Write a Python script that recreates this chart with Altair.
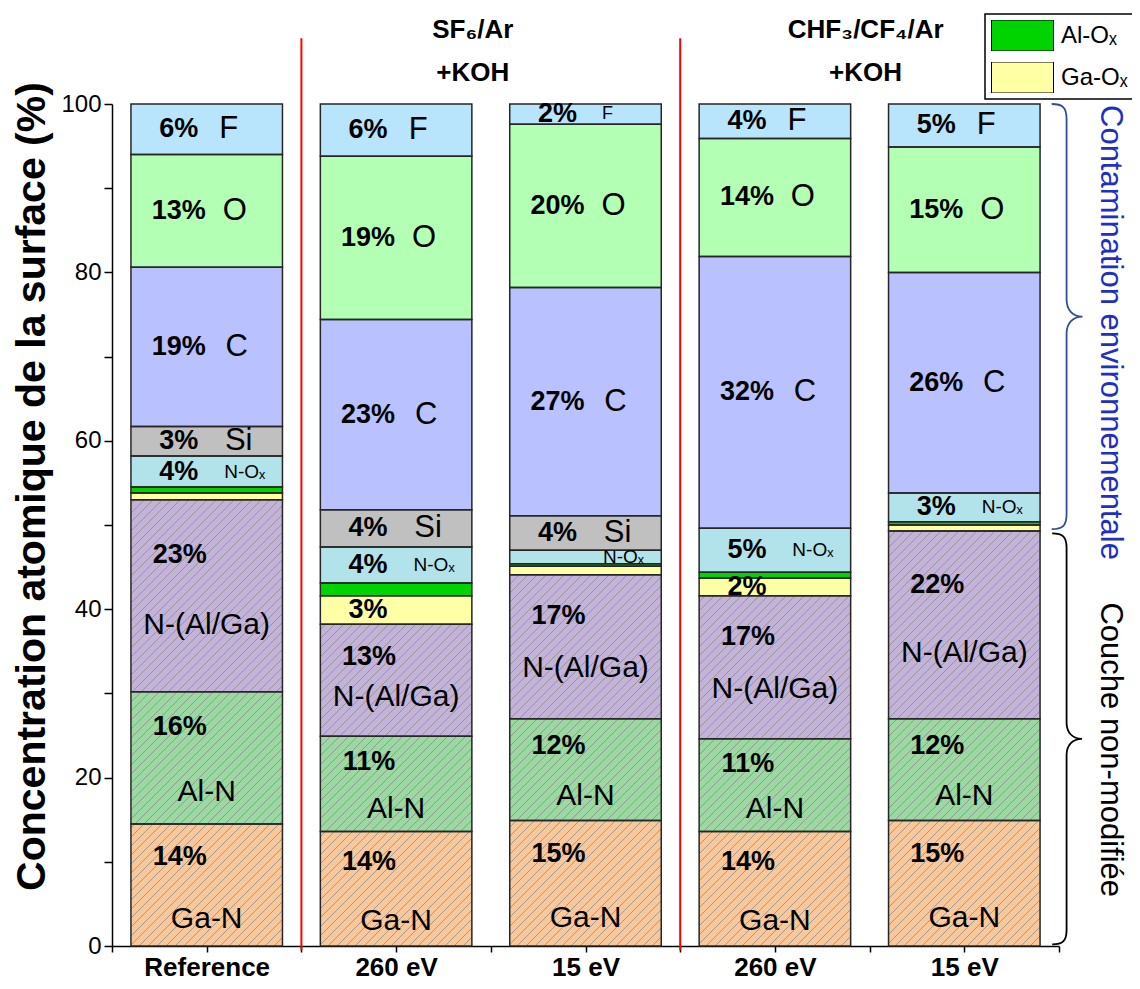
import json
import math
import altair as alt
import pandas as pd

# ---------------- data ----------------
categories = ["Reference", "260 eV", "15 eV", "260 eV", "15 eV"]
components = ["Ga-N", "Al-N", "N-(Al/Ga)", "Ga-Oₓ", "Al-Oₓ", "N-Oₓ", "Si", "C", "O", "F"]
colors = ["#F9C89A", "#9BD8A2", "#C3B3D9", "#FFFFA6", "#00D400",
          "#B3E3EA", "#C0C0C0", "#B9C1FF", "#B3FFB3", "#B9E5FC"]

ref_vals = [14.5, 15.7, 22.8, 0.8, 0.7, 3.7, 3.5, 18.9, 13.4, 6.0]
sf6_260_vals = [13.6, 11.3, 13.3, 3.4, 1.5, 4.3, 4.4, 22.6, 19.4, 6.2]
sf6_15_vals = [14.9, 12.1, 17.1, 1.0, 0.3, 1.6, 4.1, 27.1, 19.4, 2.4]
chf_260_vals = [13.6, 11.0, 17.0, 2.1, 0.7, 5.2, 0.0, 32.3, 14.0, 4.1]
chf_15_vals = [14.9, 12.1, 22.3, 0.7, 0.4, 3.4, 0.0, 26.2, 14.9, 5.1]

ref_pct = ["14%", "16%", "23%", "", "", "4%", "3%", "19%", "13%", "6%"]
sf6_260_pct = ["14%", "11%", "13%", "3%", "", "4%", "4%", "23%", "19%", "6%"]
sf6_15_pct = ["15%", "12%", "17%", "", "", "", "4%", "27%", "20%", "2%"]
chf_260_pct = ["14%", "11%", "17%", "2%", "", "5%", "", "32%", "14%", "4%"]
chf_15_pct = ["15%", "12%", "22%", "", "", "3%", "", "26%", "15%", "5%"]

hatched = ["Ga-N", "Al-N", "N-(Al/Ga)"]
named = ["Ga-N", "Al-N", "N-(Al/Ga)", "N-Oₓ", "Si", "C", "O", "F"]

group_line1 = ["SF₆/Ar", "CHF₃/CF₄/Ar"]
group_line2 = ["+KOH", "+KOH"]
group_members = [[1, 2], [3, 4]]
separators = [0.5, 2.5]

bracket_labels = ["Contamination environnementale", "Couche non-modifiée"]
bracket_low = [49.5, 0.2]
bracket_high = [100.0, 49.0]

legend_items = ["Al-Oₓ", "Ga-Oₓ"]

all_vals = [ref_vals, sf6_260_vals, sf6_15_vals, chf_260_vals, chf_15_vals]
all_pct = [ref_pct, sf6_260_pct, sf6_15_pct, chf_260_pct, chf_15_pct]

# ---------------- layout / style constants ----------------
PLOT_W, PLOT_H = 947, 842
X_MIN, X_MAX = -0.5, 4.5
PX_X = PLOT_W / (X_MAX - X_MIN)
PX_Y = PLOT_H / 100.0
HALF_BAR = 0.4
HATCH_STEP = 9.0
FONT = "Liberation Sans"

name_dx = {"F": 22, "O": 28, "C": 30, "Si": 32, "N-Oₓ": 38}
pct_frac = {"Ga-N": 0.27, "Al-N": 0.27, "N-(Al/Ga)": 0.29}
name_frac = {"Ga-N": 0.78, "Al-N": 0.76, "N-(Al/Ga)": 0.65}

# ---------------- build tables ----------------
seg_rows, hatch_rows, pct_rows, name_rows = [], [], [], []
for i, (vals, pcts) in enumerate(zip(all_vals, all_pct)):
    lo = 0.0
    for comp, v, p in zip(components, vals, pcts):
        hi = lo + v
        if v > 0:
            seg_rows.append(dict(comp=comp, x=i - HALF_BAR, x2=i + HALF_BAR, y=lo, y2=hi))
            if comp in hatched:
                u0 = (i - HALF_BAR - X_MIN) * PX_X
                u1 = (i + HALF_BAR - X_MIN) * PX_X
                v0, v1 = lo * PX_Y, hi * PX_Y
                k0 = math.ceil((v0 - u1) / HATCH_STEP)
                k1 = math.floor((v1 - u0) / HATCH_STEP)
                for k in range(k0, k1 + 1):
                    c = k * HATCH_STEP
                    us = max(u0, v0 - c)
                    ue = min(u1, v1 - c)
                    if ue - us > 0.5:
                        hatch_rows.append(dict(
                            x=us / PX_X + X_MIN, y=(us + c) / PX_Y,
                            x2=ue / PX_X + X_MIN, y2=(ue + c) / PX_Y))
                pct_y = hi - pct_frac[comp] * v
                pct_x = i - 27 / PX_X
                nm_y = hi - name_frac[comp] * v
                nm_x = i
                nm_size = 30
            else:
                pct_y = (lo + hi) / 2
                pct_x = i - 28 / PX_X
                nm_y = pct_y
                nm_x = i + name_dx.get(comp, 0) / PX_X
                if comp == "N-Oₓ":
                    nm_size = 19
                else:
                    nm_size = 31 if v >= 3 else 18
            if p:
                pct_rows.append(dict(x=pct_x, y=pct_y, t=p, s=27))
            if comp in named:
                name_rows.append(dict(x=nm_x, y=nm_y, t=comp, s=nm_size))
        lo = hi

seg_df = pd.DataFrame(seg_rows)
hatch_df = pd.DataFrame(hatch_rows)
pct_df = pd.DataFrame(pct_rows)
name_df = pd.DataFrame(name_rows)

header_dx = [-18, -4]
header_rows = []
for g, (l1, l2, mem) in enumerate(zip(group_line1, group_line2, group_members)):
    cx = sum(mem) / len(mem) + header_dx[g] / PX_X
    header_rows.append(dict(x=cx, y=100 + 74 / PX_Y, t=l1))
    header_rows.append(dict(x=cx, y=100 + 31 / PX_Y, t=l2))
header_df = pd.DataFrame(header_rows)

sep_df = pd.DataFrame(dict(x=separators, y=[-0.5] * len(separators),
                           y2=[107.8] * len(separators)))

BRACE_X = X_MAX + 0.04
brace_path = ("M-0.07,-1 C-0.02,-1 0,-0.985 0,-0.93 L0,-0.08 "
              "C0,-0.03 0.03,0 0.075,0 C0.03,0 0,0.03 0,0.08 "
              "L0,0.93 C0,0.985 -0.02,1 -0.07,1")
brace_colors = ["#2F4F8F", "#000000"]
brace_text_colors = ["#1E2FC4", "#000000"]
brace_text_off = [1, 69]
brace_df = pd.DataFrame(dict(
    x=[BRACE_X] * 2,
    y=[(a + b) / 2 for a, b in zip(bracket_low, bracket_high)],
    sz=[((b - a) * PX_Y) ** 2 for a, b in zip(bracket_low, bracket_high)],
    col=brace_colors))
brace_txt_df = pd.DataFrame(dict(
    x=[BRACE_X + 43 / PX_X] * 2,
    y=[b - o / PX_Y for b, o in zip(bracket_high, brace_text_off)],
    t=bracket_labels, col=brace_text_colors))

# ---------------- scales / axes ----------------
xscale = alt.Scale(domain=[X_MIN, X_MAX], nice=False, zero=False)
yscale = alt.Scale(domain=[0, 100], nice=False)

label_expr = ("datum.value % 1 == 0 ? " + json.dumps(categories, ensure_ascii=False)
              + "[datum.value] : ''")
x_axis = alt.Axis(values=[X_MIN + 0.5 * k for k in range(11)], labelExpr=label_expr,
                  title=None, grid=False, labelFont=FONT, labelFontSize=26,
                  labelFontWeight="bold", labelColor="black", labelPadding=2,
                  tickSize=6, tickWidth=1.5, tickColor="black", domainColor="black",
                  domainWidth=1.5, labelOverlap=False, labelFlush=False)
y_axis = alt.Axis(values=list(range(0, 101, 10)),
                  labelExpr="datum.value % 20 == 0 ? datum.label : ''",
                  title="Concentration atomique de la surface (%)",
                  titleFont=FONT, titleFontSize=41, titleFontWeight="bold",
                  titleColor="black", titleX=-80, titleY=382, titleBaseline="middle",
                  titleAngle=-90, titleAlign="center",
                  grid=False, labelFont=FONT, labelFontSize=24, labelColor="black",
                  labelPadding=3, tickSize=8, tickWidth=1.5, tickColor="black",
                  domainColor="black", domainWidth=1.5)

X = lambda f="x": alt.X(f"{f}:Q", scale=xscale, axis=x_axis)
Y = lambda f="y": alt.Y(f"{f}:Q", scale=yscale, axis=y_axis)

rect_path = "M-1,-0.5L1,-0.5L1,0.5L-1,0.5Z"

bars = alt.Chart(seg_df).mark_rect(strokeWidth=0).encode(
    x=X(), x2="x2:Q", y=Y(), y2="y2:Q",
    color=alt.Color("comp:N", scale=alt.Scale(domain=components, range=colors),
                    legend=alt.Legend(values=legend_items, title=None, orient="none",
                                      legendX=873, legendY=-90,
                                      symbolType=rect_path, symbolSize=3844,
                                      clipHeight=31,
                                      symbolStrokeColor="black", symbolStrokeWidth=1,
                                      symbolOpacity=1,
                                      labelFont=FONT, labelFontSize=24, labelColor="black",
                                      labelOffset=7, rowPadding=11, padding=6,
                                      strokeColor="black", fillColor="white",
                                      labelLimit=0)))

hatch = alt.Chart(hatch_df).mark_rule(color="#8C8C8C", strokeWidth=0.8).encode(
    x=X(), y=Y(), x2="x2:Q", y2="y2:Q")

outline = alt.Chart(seg_df).mark_rect(filled=False, color="#262626", strokeWidth=1.5).encode(
    x=X(), x2="x2:Q", y=Y(), y2="y2:Q")

pct_text = alt.Chart(pct_df).mark_text(font=FONT, fontWeight="bold", color="black",
                                       align="center", baseline="middle").encode(
    x=X(), y=Y(), text="t:N", size=alt.Size("s:Q", scale=None, legend=None))

name_text = alt.Chart(name_df).mark_text(font=FONT, color="black",
                                         align="center", baseline="middle").encode(
    x=X(), y=Y(), text="t:N", size=alt.Size("s:Q", scale=None, legend=None))

headers = alt.Chart(header_df).mark_text(font=FONT, fontWeight="bold", fontSize=26,
                                         color="black", align="center",
                                         baseline="middle").encode(
    x=X(), y=Y(), text="t:N")

seps = alt.Chart(sep_df).mark_rule(color="#FF0000", strokeWidth=2).encode(
    x=X(), y=Y(), y2="y2:Q")

braces = alt.Chart(brace_df).mark_point(shape=brace_path, filled=False, strokeWidth=1.8,
                                        opacity=1).encode(
    x=X(), y=Y(), size=alt.Size("sz:Q", scale=None, legend=None),
    stroke=alt.Stroke("col:N", scale=None))

brace_text = alt.Chart(brace_txt_df).mark_text(font=FONT, fontSize=31, angle=90,
                                               align="left", baseline="middle").encode(
    x=X(), y=Y(), text="t:N", color=alt.Color("col:N", scale=None))

chart = alt.layer(bars, hatch, outline, pct_text, name_text, headers, seps, braces,
                  brace_text).properties(
    width=PLOT_W, height=PLOT_H,
    autosize=alt.AutoSizeParams(type="none"),
    padding={"left": 104, "top": 96, "right": 73, "bottom": 35},
).configure_view(stroke=None).configure_legend(strokeWidth=1.5)

chart.save("out.html", embed_options={"renderer": "svg", "actions": False})
